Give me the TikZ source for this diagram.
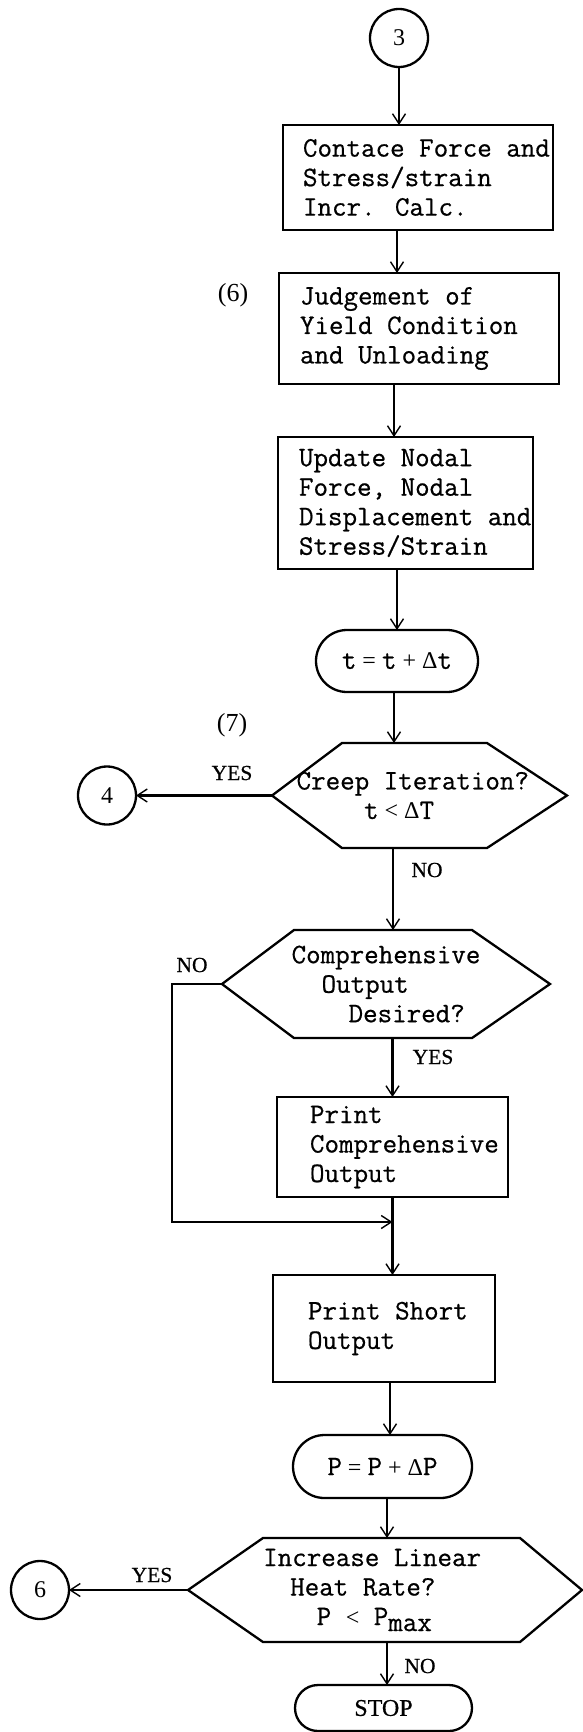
\documentclass[tikz,border=0pt]{standalone}
\usepackage{fontspec}
\newfontfamily\libser{Liberation Serif}
\newfontfamily\libserb{Liberation Serif}[FakeBold=0.6]
\newfontfamily\tyw{Latin Modern Mono}[FakeBold=0.6]
\usetikzlibrary{arrows.meta,shapes.misc,calc}
\newcommand\sy[1]{{\libser\fontsize{24}{24}\selectfont #1}}
\newcommand\hexa[3]{\draw[shp] ([xshift=#2]#1.north west) -- ([xshift=-#3]#1.north east) -- (#1.east) -- ([xshift=-#3]#1.south east) -- ([xshift=#2]#1.south west) -- (#1.west) -- cycle;}
\begin{document}
\begin{tikzpicture}[x=1pt,y=-1pt,
  every node/.style={inner sep=0pt, outer sep=0pt},
  shp/.style={draw, line width=2.3pt, line join=miter},
  ttx/.style={font=\tyw\fontsize{28.2}{29.5}\selectfont},
  procbox/.style={shp, rectangle, ttx, align=left,
    execute at begin node={\leftskip=#1\spaceskip=0pt\xspaceskip=0pt}},
  termbox/.style={shp, rounded rectangle, ttx, align=center},
  conn/.style={shp, circle, minimum size=58pt, font=\libser\fontsize{24}{24}\selectfont},
  lab/.style={font=\libserb\fontsize{21.5}{21.5}\selectfont},
  note/.style={font=\libser\fontsize{26}{26}\selectfont},
  hexbox/.style={ttx, align=left, rectangle},
  arr/.style={line width=2.2pt, -{Straight Barb[length=10pt,width=13pt,line width=1.4pt]}},
]
\path[use as bounding box, fill=white] (0,0) rectangle (583,1732);

% nodes
\node[conn] (c3) at (399,38) {3};
\node[procbox=20pt, text width=270pt, minimum height=105pt] (b1) at (418,177.5) {Contace Force and\\Stress/strain\\Incr. Calc.};
\node[note] (n6) at (233,295) {(6)};
\node[procbox=21pt, text width=280pt, minimum height=111pt] (b2) at (419,328.5) {Judgement of\\Yield Condition\\and Unloading};
\node[procbox=21pt, text width=255pt, minimum height=132pt] (b3) at (405.5,503) {Update Nodal\\Force, Nodal\\Displacement and\\Stress/Strain};
\node[termbox, minimum width=162pt, minimum height=62pt] (tn) at (397,661) {t\sy{ = }t\sy{ + Δ}t};
\node[note] (n7) at (232,725) {(7)};
\node[hexbox, minimum width=295pt, minimum height=105pt] (h1) at (419.5,795.5) {Creep Iteration?\hspace*{13.4pt}\\\hspace*{67.5pt}t\sy{ < Δ}T};
\hexa{h1}{70pt}{80pt}
\node[conn] (c4) at (107,795.5) {4};
\node[lab] (y1) at (232,773) {YES};
\node[lab] (no1) at (427,870) {NO};
\node[hexbox, minimum width=328pt, minimum height=108pt] (h2) at (386,984) {Comprehensive\\\hspace*{30pt}Output\\\hspace*{57pt}Desired?};
\hexa{h2}{72pt}{78pt}
\node[lab] (no2) at (192,965) {NO};
\node[lab] (y2) at (433,1057) {YES};
\node[procbox=33pt, text width=231pt, minimum height=100pt] (b4) at (392.5,1147) {Print\\Comprehensive\\Output};
\coordinate (jn) at ([yshift=-25pt]b4.south);
\node[procbox=35pt, text width=222pt, minimum height=107pt] (b5) at (384,1328.5) {Print Short\\Output};
\node[termbox, minimum width=179pt, minimum height=63pt] (pn) at (382.5,1466.5) {P\sy{ = }P\sy{ + Δ}P};
\node[hexbox, minimum width=394pt, minimum height=104pt] (h3) at (385,1590) {Increase Linear\hspace*{25.75pt}\\\hspace*{27pt}Heat Rate?\\\hspace*{53.5pt}P \sy{<} P\raisebox{-6pt}{max}};
\hexa{h3}{75pt}{62pt}
\node[conn] (c6) at (40,1590) {6};
\node[lab] (y3) at (152,1575) {YES};
\node[lab] (no3) at (420,1666) {NO};
\node[termbox, minimum width=177pt, minimum height=46pt, font=\libserb\fontsize{24}{24}\selectfont] (stop) at (383.5,1708) {STOP};

% connectors
\draw[arr] (c3.south) -- (c3.south |- b1.north);
\draw[arr] ([xshift=-21pt]b1.south) -- ([xshift=-21pt]b1.south |- b2.north);
\draw[arr] ([xshift=-25pt]b2.south) -- ([xshift=-25pt]b2.south |- b3.north);
\draw[arr] (b3.south -| tn.north) -- (tn.north);
\draw[arr] ([xshift=-3pt]tn.south) -- ([xshift=-3pt]tn.south |- h1.north);
\draw[arr] (h1.west) -- (c4.east);
\draw[arr] ([xshift=-26.5pt]h1.south) -- ([xshift=-26.5pt]h1.south |- h2.north);
\draw[arr] (b4.north |- h2.south) -- (b4.north);
\draw[arr] (h2.west) -- ++(-50,0) |- (jn);
\draw[arr] (b4.south) -- (b4.south |- b5.north);
\draw[arr] ([xshift=6pt]b5.south) -- ([xshift=6pt]b5.south |- pn.north);
\draw[arr] ([xshift=4.5pt]pn.south) -- ([xshift=4.5pt]pn.south |- h3.north);
\draw[arr] (h3.west) -- (c6.east);
\draw[arr] ([xshift=2pt]h3.south) -- ([xshift=2pt]h3.south |- stop.north);
\end{tikzpicture}
\end{document}
